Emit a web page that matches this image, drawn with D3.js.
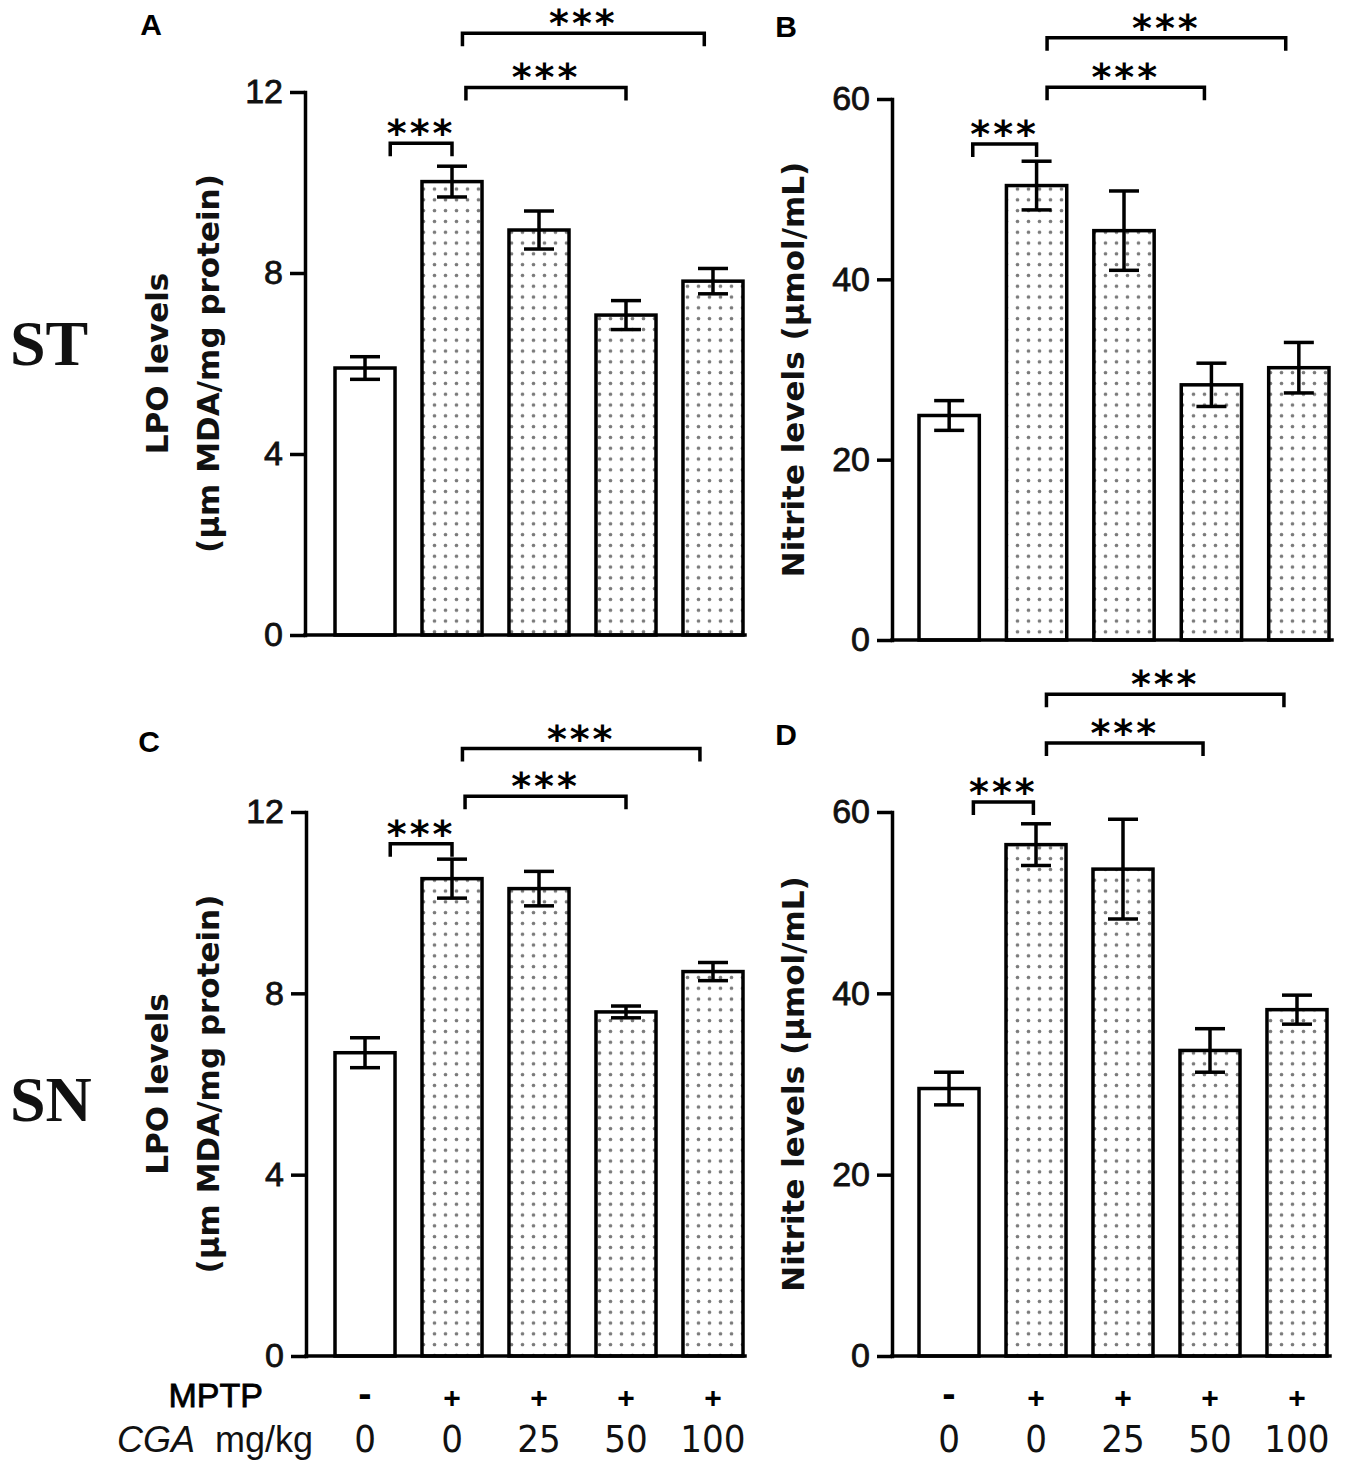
<!DOCTYPE html>
<html>

<head>
    <meta charset="utf-8">
    <title>LPO and nitrite levels</title>
    <script src="https://cdn.jsdelivr.net/npm/d3@7"></script>
    <style>
        body { margin: 0; background: #fff; }
    </style>
</head>

<body>
    <svg width="1350" height="1469" id="mainsvg"></svg>
    <script>
        const svg = d3.select('#mainsvg');

        // groups on the x axis
        const groups = ['Control', 'MPTP', 'MPTP+CGA25', 'MPTP+CGA50', 'MPTP+CGA100'];
        const mptpSigns = ['-', '+', '+', '+', '+'];
        const cgaDoses = ['0', '0', '25', '50', '100'];

        // A: striatum LPO
        const lpoST = [5.9, 10.02, 8.95, 7.07, 7.82];
        const lpoSTErr = [0.25, 0.34, 0.42, 0.32, 0.28];
        // B: striatum nitrite
        const nitriteST = [24.9, 50.4, 45.4, 28.3, 30.2];
        const nitriteSTErr = [1.65, 2.7, 4.4, 2.4, 2.8];
        // C: substantia nigra LPO
        const lpoSN = [6.69, 10.53, 10.31, 7.59, 8.48];
        const lpoSNErr = [0.33, 0.43, 0.38, 0.13, 0.2];
        // D: substantia nigra nitrite
        const nitriteSN = [29.5, 56.4, 53.7, 33.7, 38.2];
        const nitriteSNErr = [1.8, 2.3, 5.5, 2.4, 1.6];

        const lpoTicks = [0, 4, 8, 12];
        const nitriteTicks = [0, 20, 40, 60];

        // significance brackets: from / to as (fractional) group index, level in data units
        const sigA = [{ from: 0.29, to: 1, level: 10.87 }, { from: 1.16, to: 3, level: 12.1 }, { from: 1.12, to: 3.9, level: 13.3 }];
        const sigB = [{ from: 0.27, to: 1, level: 55.0 }, { from: 1.12, to: 2.92, level: 61.3 }, { from: 1.12, to: 3.85, level: 66.8 }];
        const sigC = [{ from: 0.29, to: 1, level: 11.3 }, { from: 1.15, to: 3, level: 12.35 }, { from: 1.12, to: 3.85, level: 13.4 }];
        const sigD = [{ from: 0.28, to: 0.97, level: 61.1 }, { from: 1.12, to: 2.92, level: 67.6 }, { from: 1.12, to: 3.85, level: 73.0 }];
        const sigLabel = '***';

        const lpoTitle = ['LPO levels', '(μm MDA/mg protein)'];
        const nitriteTitle = ['Nitrite levels  (μmol/mL)'];

        const panels = [
            { letter: 'A', values: lpoST, errors: lpoSTErr, sig: sigA, ticks: lpoTicks, title: lpoTitle,
              axisX: 305, right: 745, bars: [335, 743], top: 92, bottom: 635, letterPos: [151, 35], titleX: [168, 219], footer: false },
            { letter: 'B', values: nitriteST, errors: nitriteSTErr, sig: sigB, ticks: nitriteTicks, title: nitriteTitle,
              axisX: 892, right: 1332, bars: [919, 1329], top: 99, bottom: 640, letterPos: [786, 37], titleX: [804], footer: false },
            { letter: 'C', values: lpoSN, errors: lpoSNErr, sig: sigC, ticks: lpoTicks, title: lpoTitle,
              axisX: 306, right: 745, bars: [335, 743], top: 812, bottom: 1356, letterPos: [149, 752], titleX: [168, 219], footer: true },
            { letter: 'D', values: nitriteSN, errors: nitriteSNErr, sig: sigD, ticks: nitriteTicks, title: nitriteTitle,
              axisX: 892, right: 1330, bars: [919, 1327], top: 812, bottom: 1356, letterPos: [786, 745], titleX: [804], footer: true }
        ];

        const defs = svg.append('defs');
        const pat = defs.append('pattern')
            .attr('id', 'dots')
            .attr('patternUnits', 'userSpaceOnUse')
            .attr('width', 11)
            .attr('height', 10.8);
        pat.append('rect').attr('width', 11).attr('height', 10.8).attr('fill', '#fff');
        pat.append('circle').attr('cx', 5.5).attr('cy', 5.4).attr('r', 1.8).attr('fill', '#7a7a7a');

        const drawPanel = function (p) {
            const g = svg.append('g').attr('id', 'panel_' + p.letter);
            const yMax = d3.max(p.ticks);

            const yScale = d3.scaleLinear()
                .domain([0, yMax])
                .range([p.bottom, p.top]);
            const xScale = d3.scaleBand()
                .domain(d3.range(groups.length))
                .range(p.bars)
                .paddingInner(0.31)
                .paddingOuter(0);
            const bw = xScale.bandwidth();
            const center = i => xScale(i) + bw / 2;
            const idxScale = d3.scaleLinear()
                .domain([0, groups.length - 1])
                .range([center(0), center(groups.length - 1)]);

            // bars
            g.selectAll('.bar').data(p.values)
                .join('rect')
                .attr('class', 'bar')
                .attr('x', (d, i) => xScale(i))
                .attr('y', d => yScale(d))
                .attr('width', bw)
                .attr('height', d => yScale(0) - yScale(d))
                .attr('fill', (d, i) => i === 0 ? '#fff' : 'url(#dots)')
                .attr('stroke', '#000')
                .attr('stroke-width', 3.5);

            // error bars
            const errG = g.append('g').attr('stroke', '#000').attr('stroke-width', 3.5);
            p.values.forEach((v, i) => {
                const e = p.errors[i];
                const cx = center(i);
                errG.append('line')
                    .attr('x1', cx).attr('x2', cx)
                    .attr('y1', yScale(v - e)).attr('y2', yScale(v + e));
                [v - e, v + e].forEach(t => {
                    errG.append('line')
                        .attr('x1', cx - 15).attr('x2', cx + 15)
                        .attr('y1', yScale(t)).attr('y2', yScale(t));
                });
            });

            // y axis
            const yAxis = d3.axisLeft(yScale)
                .tickValues(p.ticks)
                .tickSize(15)
                .tickSizeOuter(0)
                .tickPadding(7);
            const yAxisG = g.append('g')
                .attr('transform', `translate(${p.axisX}, 0)`)
                .call(yAxis);
            yAxisG.select('.domain').attr('stroke-width', 3.5).attr('stroke-linecap', 'square');
            yAxisG.selectAll('.tick line').attr('stroke-width', 3.5);
            yAxisG.selectAll('.tick text')
                .attr('font-family', '"Liberation Sans", Arial, sans-serif')
                .attr('font-size', 34)
                .attr('fill', '#111')
                .attr('stroke', '#111')
                .attr('stroke-width', 0.8);

            // x baseline
            g.append('line')
                .attr('x1', p.axisX).attr('x2', p.right)
                .attr('y1', yScale(0)).attr('y2', yScale(0))
                .attr('stroke', '#000')
                .attr('stroke-width', 3.5)
                .attr('stroke-linecap', 'square');

            // y title
            const midY = (p.top + p.bottom) / 2;
            p.title.forEach((t, k) => {
                g.append('text')
                    .attr('transform', `translate(${p.titleX[k]}, ${midY}) rotate(-90)`)
                    .attr('text-anchor', 'middle')
                    .attr('font-family', '"DejaVu Sans", Verdana, sans-serif')
                    .attr('font-weight', 'bold')
                    .attr('font-size', 31)
                    .attr('fill', '#111')
                    .text(t);
            });

            // panel letter
            g.append('text')
                .attr('x', p.letterPos[0])
                .attr('y', p.letterPos[1])
                .attr('text-anchor', 'middle')
                .attr('font-family', '"Liberation Sans", Arial, sans-serif')
                .attr('font-weight', 'bold')
                .attr('font-size', 30)
                .text(p.letter);

            // significance brackets
            const sigG = g.append('g');
            p.sig.forEach(s => {
                const x1 = idxScale(s.from);
                const x2 = idxScale(s.to);
                const y = yScale(s.level);
                sigG.append('path')
                    .attr('d', `M${x1},${y + 13}V${y}H${x2}V${y + 13}`)
                    .attr('fill', 'none')
                    .attr('stroke', '#000')
                    .attr('stroke-width', 3.5);
                sigG.append('text')
                    .attr('x', (x1 + x2) / 2)
                    .attr('y', y + 3)
                    .attr('text-anchor', 'middle')
                    .attr('font-family', '"DejaVu Sans", sans-serif')
                    .attr('font-weight', 'bold')
                    .attr('font-size', 38)
                    .attr('letter-spacing', 3)
                    .text(sigLabel);
            });

            // group labels below the axis
            if (p.footer) {
                const fg = g.append('g');
                fg.selectAll('.sign').data(mptpSigns)
                    .join('text')
                    .attr('class', 'sign')
                    .attr('x', (d, i) => center(i))
                    .attr('y', d => d === '-' ? 1407 : 1408)
                    .attr('text-anchor', 'middle')
                    .attr('font-family', '"Liberation Sans", Arial, sans-serif')
                    .attr('font-weight', 'bold')
                    .attr('font-size', d => d === '-' ? 40 : 30)
                    .text(d => d);
                fg.selectAll('.dose').data(cgaDoses)
                    .join('text')
                    .attr('class', 'dose')
                    .attr('x', (d, i) => center(i))
                    .attr('y', 1452)
                    .attr('text-anchor', 'middle')
                    .attr('font-family', '"Liberation Sans Narrow", "DejaVu Sans Condensed", sans-serif')
                    .attr('font-size', 38)
                    .attr('fill', '#111')
                    .text(d => d);
            }
        };

        panels.forEach(drawPanel);

        // footer row titles
        const rowFont = '"Liberation Sans", Arial, sans-serif';
        svg.append('text')
            .attr('x', 263).attr('y', 1407)
            .attr('text-anchor', 'end')
            .attr('font-family', rowFont)
            .attr('font-size', 34)
            .attr('stroke', '#000').attr('stroke-width', 0.8)
            .text('MPTP');
        const cga = svg.append('text')
            .attr('x', 117).attr('y', 1452)
            .attr('font-family', rowFont)
            .attr('font-size', 36)
            .attr('fill', '#111');
        cga.append('tspan').attr('font-style', 'italic').text('CGA');
        cga.append('tspan').attr('dx', 20).text('mg/kg');

        // region labels
        [['ST', 365], ['SN', 1121]].forEach(r => {
            svg.append('text')
                .attr('x', 10).attr('y', r[1])
                .attr('font-family', '"Liberation Serif", "Times New Roman", serif')
                .attr('font-weight', 'bold')
                .attr('font-size', 64)
                .attr('fill', '#111')
                .text(r[0]);
        });
    </script>
</body>

</html>
